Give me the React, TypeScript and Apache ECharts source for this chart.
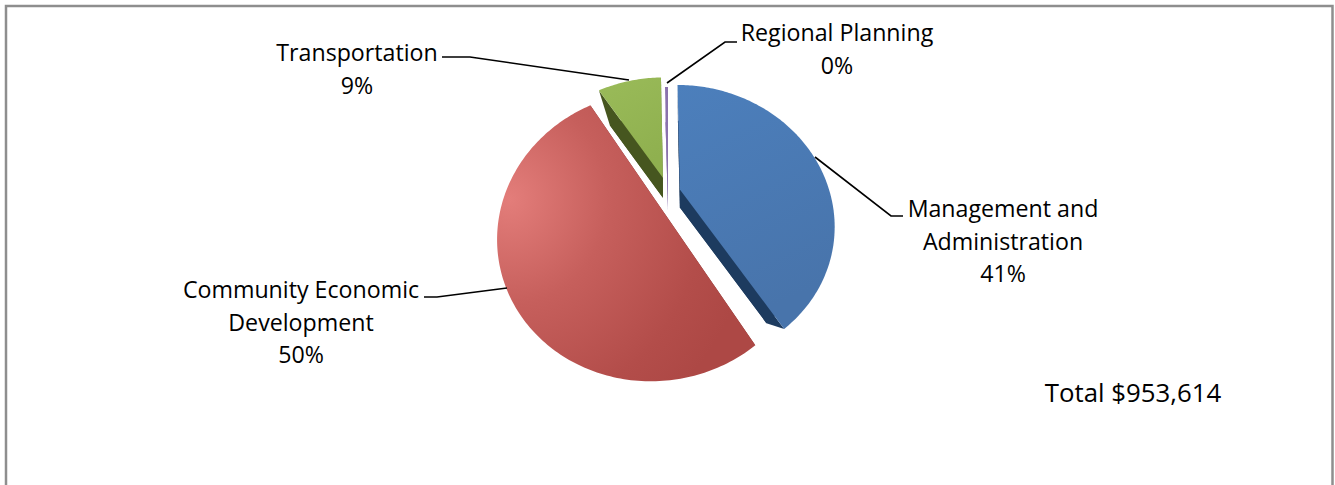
import React, { useEffect, useRef } from "react";
import * as echarts from "echarts";

const sliceNames = [
  ["Management and", "Administration"],
  ["Community Economic", "Development"],
  ["Transportation"],
  ["Regional Planning"],
];
const sliceValues = [41, 50, 8.6, 0.4];
const sliceOffsets = [0.083, 0.1, 0.12, 0.0];
const totalLabel = "Total $953,614";

const FONT = "'Open Sans', sans-serif";
const FONT_SIZE = 23.2;
const LINE_STEP = 32.5;

// Disc-to-screen projection of the tilted pie.
const ORIGIN_X = 668;
const ORIGIN_Y = 192.5;
const RADIUS_X = 150;
const RADIUS_Y = 132;
const PERSPECTIVE = 0.25;
const EXTRUDE_Y = 295;
const EXTRUDE_SCALE = 0.83;

const topFills = [
  new echarts.graphic.LinearGradient(0, 0, 0.3, 1, [
    { offset: 0, color: "#4c7fbc" },
    { offset: 1, color: "#4874ab" },
  ]),
  new echarts.graphic.RadialGradient(0.05, 0.34, 0.95, [
    { offset: 0, color: "#e37d7a" },
    { offset: 0.4, color: "#c65f5c" },
    { offset: 0.8, color: "#b34d4a" },
    { offset: 1, color: "#ad4845" },
  ]),
  new echarts.graphic.LinearGradient(0, 0, 0.4, 1, [
    { offset: 0, color: "#9abb59" },
    { offset: 1, color: "#8fb04f" },
  ]),
  "#8a72ad",
];
const sideFills = ["#1d3b5f", "#7d2f2d", "#46561f", "#8a72ad"];

const labelCenters: [number, number][] = [
  [1003, 208],
  [301, 289],
  [357, 52],
  [837, 32],
];
const leaderPaths: [number, number][][] = [
  [[815, 157], [891, 216], [903, 216]],
  [[507, 288], [437, 297], [424, 297]],
  [[629, 80], [470, 57], [442, 57]],
  [[667, 83], [725, 42], [737, 42]],
];

const project = (u: number, v: number): [number, number] => {
  const d = 1 + PERSPECTIVE * v;
  return [ORIGIN_X + (RADIUS_X * u) / d, ORIGIN_Y - (RADIUS_Y * v) / d];
};

const sliceStarts = sliceValues.reduce<number[]>(
  (acc, v, i) => acc.concat(acc[i] + v),
  [0],
);
const sliceTotal = sliceStarts[sliceValues.length];

const renderSlice = (params: any, api: any) => {
  const i = params.dataIndex;
  const start = (sliceStarts[i] / sliceTotal) * Math.PI * 2;
  const sweep = (api.value(0) / sliceTotal) * Math.PI * 2;
  const mid = start + sweep / 2;
  const au = sliceOffsets[i] * Math.sin(mid);
  const av = sliceOffsets[i] * Math.cos(mid);
  const apex = project(au, av);
  const steps = Math.max(2, Math.ceil((sweep * 180) / Math.PI));
  const rim: [number, number][] = [];
  for (let s = 0; s <= steps; s++) {
    const t = start + (sweep * s) / steps;
    rim.push(project(au + Math.sin(t), av + Math.cos(t)));
  }
  const drop = (p: [number, number]): [number, number] => [
    apex[0] + EXTRUDE_SCALE * (p[0] - apex[0]),
    EXTRUDE_Y + EXTRUDE_SCALE * (p[1] - EXTRUDE_Y),
  ];
  const last = rim[rim.length - 1];
  const sides = [
    [apex, rim[0], drop(rim[0]), drop(apex)],
    [apex, last, drop(last), drop(apex)],
    [drop(apex), ...rim.map(drop)],
  ];
  return {
    type: "group",
    children: [
      ...sides.map((points) => ({
        type: "polygon",
        shape: { points },
        style: { fill: sideFills[i] },
      })),
      {
        type: "polygon",
        shape: { points: [apex, ...rim] },
        style: { fill: topFills[i] },
      },
    ],
  };
};

const labelGraphics = sliceNames.flatMap((lines, i) => {
  const [x, y] = labelCenters[i];
  return [...lines, `${Math.round(sliceValues[i])}%`].map((text, row) => ({
    type: "text",
    x,
    y: y + row * LINE_STEP,
    style: {
      text,
      font: `${FONT_SIZE}px ${FONT}`,
      fill: "#000000",
      textAlign: "center",
      textVerticalAlign: "middle",
    },
    z: 5,
  }));
});

const leaderGraphics = leaderPaths.map((points) => ({
  type: "polyline",
  shape: { points },
  style: { stroke: "#000000", lineWidth: 1.6, fill: "none" },
  z: 4,
}));

export default function App() {
  const ref = useRef<HTMLDivElement>(null);
  useEffect(() => {
    document.body.style.margin = "0";
    const chart = echarts.init(ref.current!, null, { renderer: "svg" });
    chart.setOption({
      animation: false,
      backgroundColor: "#ffffff",
      graphic: [
        {
          type: "polyline",
          shape: { points: [[6, 490], [6, 6], [1332.5, 6], [1332.5, 490]] },
          style: { stroke: "#8e8e8e", lineWidth: 2.5, fill: "none" },
          z: 1,
        },
        ...leaderGraphics,
        ...labelGraphics,
        {
          type: "text",
          x: 1133,
          y: 392,
          style: {
            text: totalLabel,
            font: `25.8px ${FONT}`,
            fill: "#000000",
            textAlign: "center",
            textVerticalAlign: "middle",
          },
          z: 5,
        },
      ],
      series: [
        {
          type: "custom",
          coordinateSystem: "none",
          renderItem: renderSlice,
          data: sliceValues.map((v) => [v]),
          silent: true,
        },
      ],
    });
    return () => chart.dispose();
  }, []);
  return <div ref={ref} style={{ width: 1335, height: 485 }} />;
}
